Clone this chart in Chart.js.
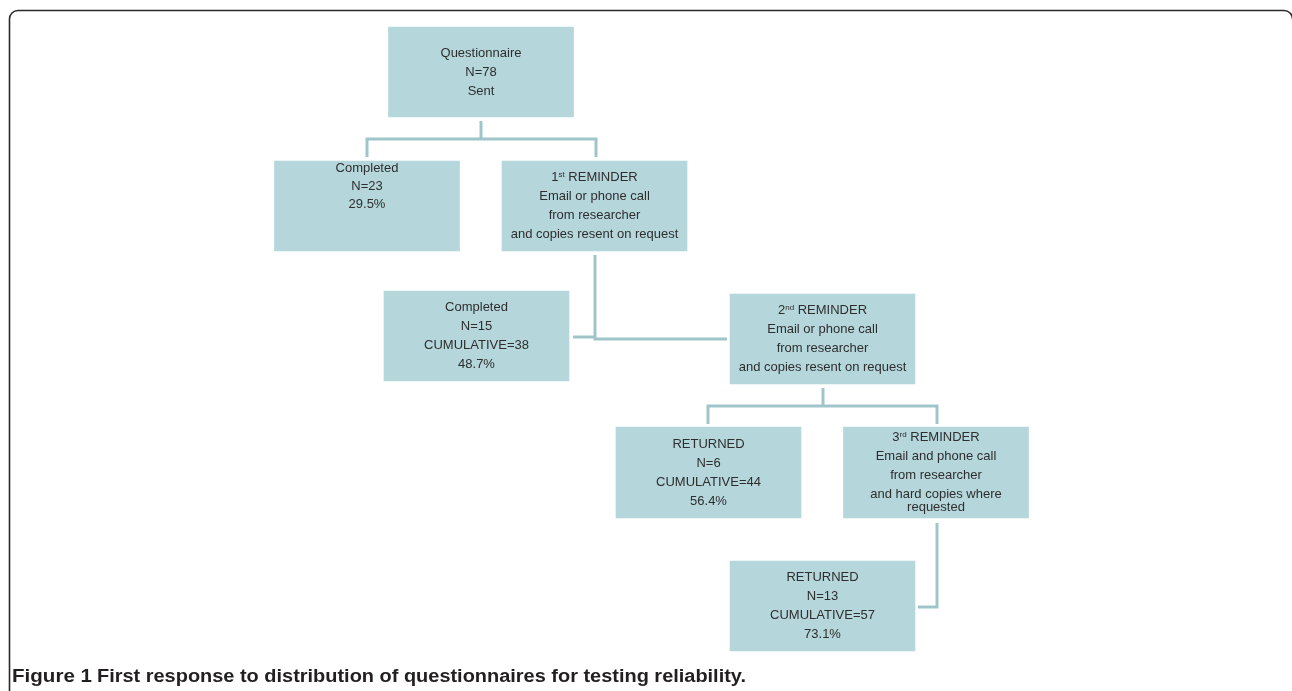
<!DOCTYPE html>
<html>
<head>
<meta charset="utf-8">
<script src="https://cdn.jsdelivr.net/npm/chart.js@4/dist/chart.umd.min.js"></script>
<style>
	html, body { margin: 0; padding: 0; background: #ffffff; }
	#flow-wrap { width: 1292px; height: 691px; }
</style>
</head>
<body>
<div id="flow-wrap"><canvas id="chart-flow" width="1292" height="691"></canvas></div>
<script>
// data
var nodeTitles = ["Questionnaire", "Completed", "1^st REMINDER", "Completed", "2^nd REMINDER", "RETURNED", "3^rd REMINDER", "RETURNED"];
var nodeN = [78, 23, null, 15, null, 6, null, 13];
var nodeCumulative = [null, null, null, 38, null, 44, null, 57];
var nodePercent = [null, 29.5, null, 48.7, null, 56.4, null, 73.1];
var nodeNotes = [
	["Sent"],
	[],
	["Email or phone call", "from researcher", "and copies resent on request"],
	[],
	["Email or phone call", "from researcher", "and copies resent on request"],
	[],
	["Email and phone call", "from researcher", "and hard copies where|requested"],
	[]
];
var captionBold = "Figure 1";
var captionText = "First response to distribution of questionnaires for testing reliability.";

// layout of the flow diagram (page units, y downwards)
var boxLayout = [
	{ x0: 389, x1: 573, y0: 27, y1: 117, align: "middle" },
	{ x0: 275, x1: 459, y0: 161, y1: 251, align: "top" },
	{ x0: 502, x1: 687, y0: 161, y1: 251, align: "middle" },
	{ x0: 384, x1: 569, y0: 291, y1: 381, align: "middle" },
	{ x0: 731, x1: 914, y0: 294, y1: 384, align: "middle" },
	{ x0: 616, x1: 801, y0: 427, y1: 518, align: "middle" },
	{ x0: 844, x1: 1028, y0: 427, y1: 518, align: "middle" },
	{ x0: 730, x1: 915, y0: 561, y1: 651, align: "middle" }
];
var connectorLayout = [
	[[481, 121], [481, 139]],
	[[367, 157], [367, 139], [596, 139], [596, 157]],
	[[595, 255], [595, 339], [727, 339]],
	[[573, 337], [595, 337]],
	[[823, 388], [823, 406]],
	[[708, 424], [708, 406], [937, 406], [937, 424]],
	[[937, 523], [937, 607], [918, 607]]
];

var BOX_COLOR = "#b5d6db";
var LINE_COLOR = "#9fc5ca";
var TEXT_COLOR = "#2e2e2e";
var FONT_FAMILY = "'Liberation Sans', Arial, sans-serif";

function BuildNodeLines(i)
{
	var lines = [nodeTitles[i]];
	if (nodeN[i] !== null) lines.push("N=" + nodeN[i]);
	if (i === 0) return lines.concat(nodeNotes[i]);
	if (nodeCumulative[i] !== null) lines.push("CUMULATIVE=" + nodeCumulative[i]);
	if (nodePercent[i] !== null) lines.push(nodePercent[i].toFixed(1) + "%");
	return lines.concat(nodeNotes[i]);
}

function DrawLine(ctx, text, cx, cy)
{
	var m = /^(\d)\^(\w+)(.*)$/.exec(text);
	ctx.font = "13px " + FONT_FAMILY;
	if (!m)
	{
		ctx.textAlign = "center";
		ctx.fillText(text, cx, cy);
		return;
	}
	var w1 = ctx.measureText(m[1]).width;
	var w3 = ctx.measureText(m[3]).width;
	ctx.font = "8px " + FONT_FAMILY;
	var w2 = ctx.measureText(m[2]).width;
	var x = cx - (w1 + w2 + w3) / 2;
	ctx.textAlign = "left";
	ctx.font = "13px " + FONT_FAMILY;
	ctx.fillText(m[1], x, cy);
	ctx.font = "8px " + FONT_FAMILY;
	ctx.fillText(m[2], x + w1, cy - 3);
	ctx.font = "13px " + FONT_FAMILY;
	ctx.fillText(m[3], x + w1 + w2, cy);
}

// stretch or squeeze a text run horizontally so it spans a given width
function FitText(ctx, text, x, y, width)
{
	var w = ctx.measureText(text).width;
	ctx.save();
	ctx.translate(x, y);
	ctx.scale(width / w, 1);
	ctx.fillText(text, 0, 0);
	ctx.restore();
}

var boxTextPlugin = {
	id: "boxText",
	afterDatasetsDraw: function(chart)
	{
		var ctx = chart.ctx;
		var meta = chart.getDatasetMeta(0);
		ctx.save();
		ctx.fillStyle = TEXT_COLOR;
		ctx.textBaseline = "middle";
		meta.data.forEach(function(bar, i)
		{
			var rows = [];
			BuildNodeLines(i).forEach(function(line)
			{
				line.split("|").forEach(function(part, k)
				{
					rows.push({ text: part, step: k > 0 ? 13 : 19 });
				});
			});
			var top = Math.min(bar.y, bar.base);
			var bottom = Math.max(bar.y, bar.base);
			var total = 0;
			rows.forEach(function(r, k) { if (k > 0) total += r.step; });
			var y;
			if (boxLayout[i].align === "top") y = top + 7.5;
			else y = (top + bottom) / 2 - total / 2;
			rows.forEach(function(r, k)
			{
				if (k > 0) y += (boxLayout[i].align === "top" ? 18 : r.step);
				DrawLine(ctx, r.text, bar.x, y);
			});
		});
		ctx.restore();
	}
};

var framePlugin = {
	id: "frameAndCaption",
	afterDraw: function(chart)
	{
		var ctx = chart.ctx;
		ctx.save();
		ctx.strokeStyle = "#2a2a2a";
		ctx.lineWidth = 1.6;
		ctx.beginPath();
		ctx.moveTo(9.5, 691);
		ctx.lineTo(9.5, 19);
		ctx.arcTo(9.5, 10.5, 18, 10.5, 8.5);
		ctx.lineTo(1284, 10.5);
		ctx.arcTo(1292.5, 10.5, 1292.5, 19, 8.5);
		ctx.stroke();

		ctx.fillStyle = "#231f20";
		ctx.textBaseline = "alphabetic";
		ctx.textAlign = "left";
		ctx.font = "bold 19px " + FONT_FAMILY;
		FitText(ctx, captionBold, 12, 682, 80);
		ctx.font = "bold 18px " + FONT_FAMILY;
		FitText(ctx, captionText, 97, 682, 649);
		ctx.restore();
	}
};

var datasets = [{
	type: "bar",
	data: boxLayout.map(function(b) { return { x: (b.x0 + b.x1) / 2, y: [b.y0, b.y1] }; }),
	backgroundColor: BOX_COLOR,
	borderWidth: 0,
	barThickness: 185,
	grouped: false,
	order: 1
}];
connectorLayout.forEach(function(path)
{
	datasets.push({
		type: "line",
		data: path.map(function(p) { return { x: p[0], y: p[1] }; }),
		borderColor: LINE_COLOR,
		borderWidth: 3,
		borderCapStyle: "butt",
		borderJoinStyle: "miter",
		pointRadius: 0,
		fill: false,
		tension: 0,
		order: 2
	});
});

new Chart(document.getElementById("chart-flow"), {
	type: "bar",
	data: { datasets: datasets },
	options: {
		responsive: false,
		animation: false,
		devicePixelRatio: 1,
		layout: { padding: 0 },
		plugins: { legend: { display: false }, tooltip: { enabled: false } },
		scales: {
			x: { type: "linear", min: 0, max: 1292, offset: false, display: false },
			y: { type: "linear", min: 0, max: 691, reverse: true, display: false }
		}
	},
	plugins: [boxTextPlugin, framePlugin]
});
</script>
</body>
</html>
